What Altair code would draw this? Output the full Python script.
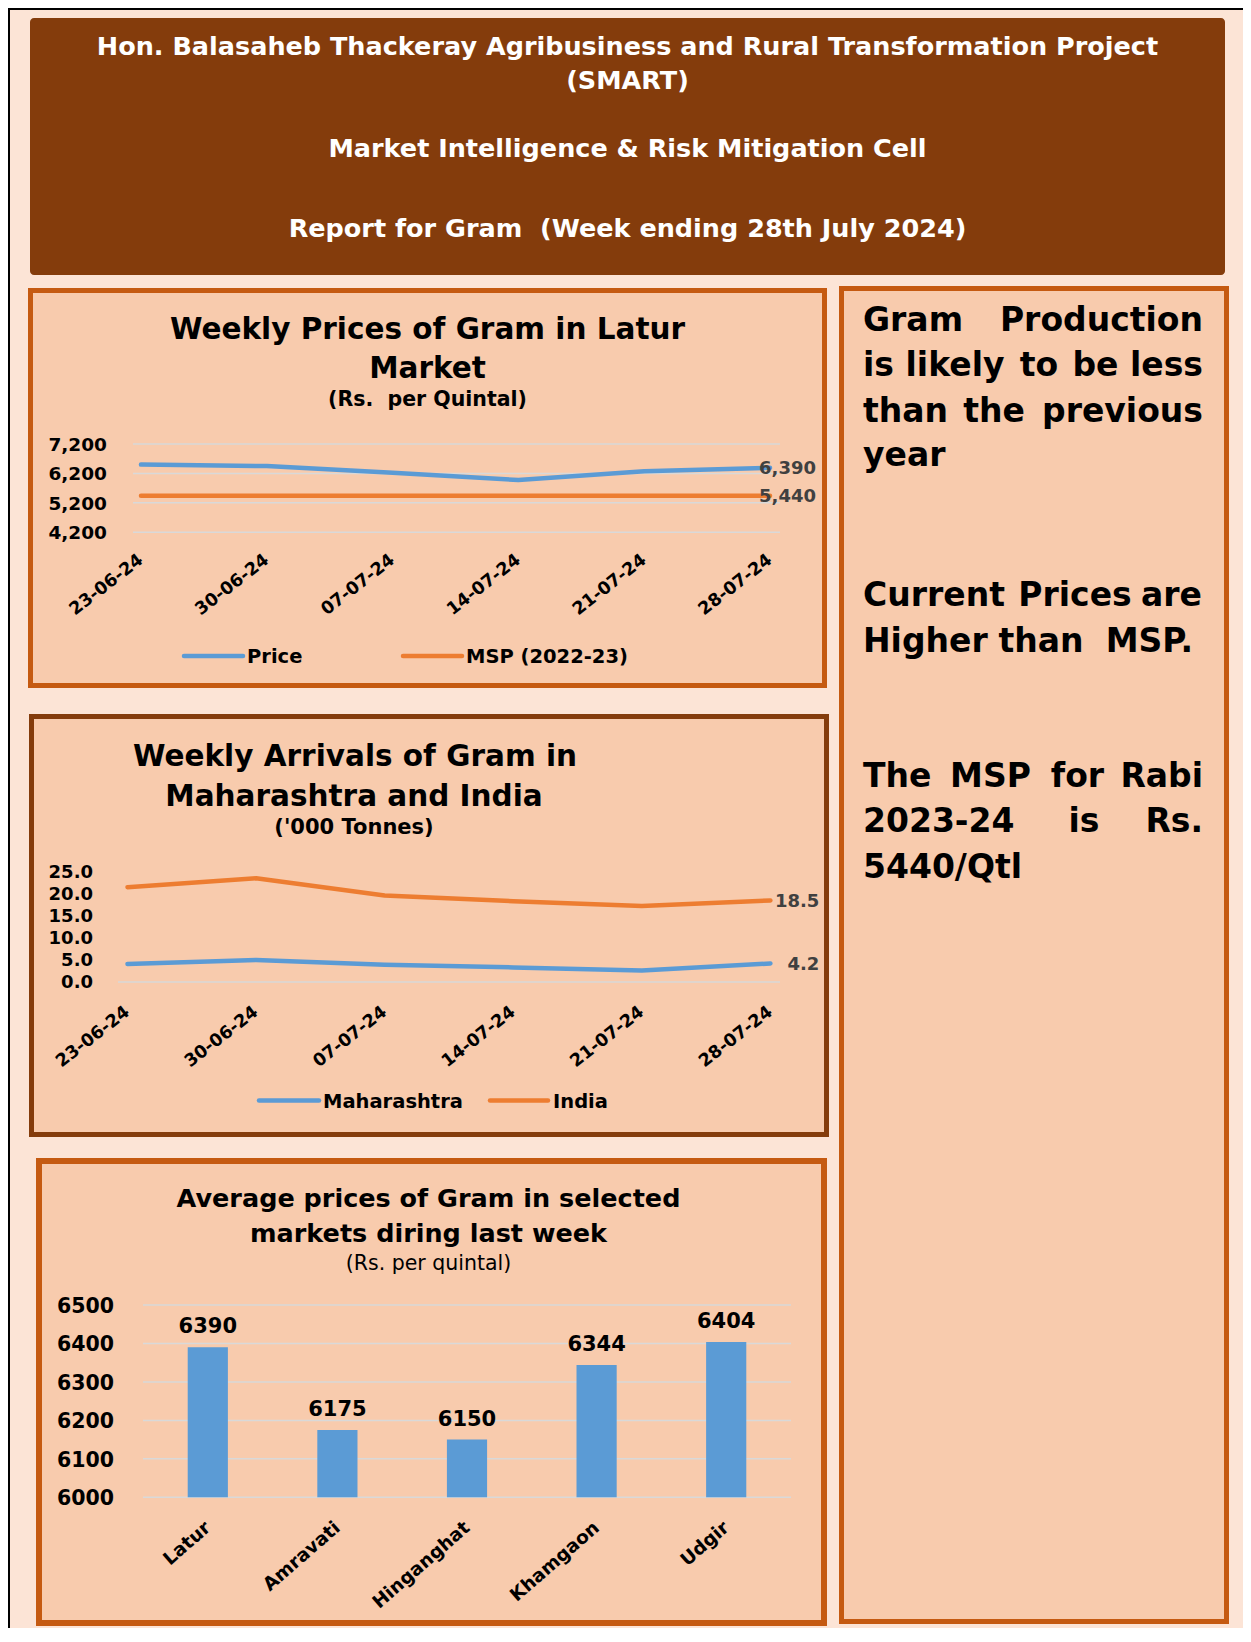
import altair as alt
import pandas as pd

# ---------------- data ----------------
weeks = ["23-06-24", "30-06-24", "07-07-24", "14-07-24", "21-07-24", "28-07-24"]
price = [6500, 6450, 6225, 5975, 6275, 6390]
msp = [5440, 5440, 5440, 5440, 5440, 5440]
price_ticks = [4200, 5200, 6200, 7200]

maharashtra = [4.1, 5.0, 3.9, 3.3, 2.6, 4.2]
india = [21.5, 23.5, 19.6, 18.3, 17.2, 18.5]
arrival_ticks = [0, 5, 10, 15, 20, 25]

markets = ["Latur", "Amravati", "Hinganghat", "Khamgaon", "Udgir"]
market_prices = [6390, 6175, 6150, 6344, 6404]
market_ticks = [6000, 6100, 6200, 6300, 6400, 6500]

# ---------------- style ----------------
F = "DejaVu Sans"
BG = "#FCE4D6"
PANEL = "#F8CBAD"
ORANGE_DARK = "#C55A11"
BROWN = "#843C0C"
BLUE = "#5B9BD5"
ORANGE = "#ED7D31"
GRID = "#D9D9D9"
OX, OY = 8, 8
W, H = 1235, 1620
NB = "\u00a0"
XANG = 322
XANG3 = 319


def px(v):
    return v - OX


def py(v):
    return v - OY


one = pd.DataFrame({"k": [0]})


def txt(s, x, y, size, color="#000000", weight="bold", align="center", baseline="alphabetic"):
    return alt.Chart(one).mark_text(
        text=s, font=F, fontSize=size, fontWeight=weight, color=color,
        align=align, baseline=baseline
    ).encode(x=alt.value(px(x)), y=alt.value(py(y)))


def box(x1, y1, x2, y2, fill, stroke=None, sw=0, radius=0):
    kw = dict(fill=fill, cornerRadius=radius)
    if stroke is not None:
        kw.update(stroke=stroke, strokeWidth=sw)
    else:
        kw.update(strokeWidth=0)
    return alt.Chart(one).mark_rect(**kw).encode(
        x=alt.value(px(x1)), x2=alt.value(px(x2)),
        y=alt.value(py(y1)), y2=alt.value(py(y2)))


def legend_item(x1, x2, y, color, label, tx):
    r = alt.Chart(one).mark_rule(color=color, strokeWidth=4.5, strokeCap="round").encode(
        x=alt.value(px(x1)), x2=alt.value(px(x2)), y=alt.value(py(y)))
    t = txt(label, tx, y + 1, 19.5, align="left", baseline="middle")
    return [r, t]


layers = []

# thin black frame on top / left
layers.append(alt.Chart(one).mark_rule(color="#000000", strokeWidth=2).encode(
    x=alt.value(0), x2=alt.value(W), y=alt.value(1)))
layers.append(alt.Chart(one).mark_rule(color="#000000", strokeWidth=2).encode(
    x=alt.value(1), y=alt.value(0), y2=alt.value(H)))

# ---------------- header ----------------
layers.append(box(30, 18, 1225, 275, BROWN, radius=4))
hx = 627.5
HS = 25.5
layers.append(txt("Hon. Balasaheb Thackeray Agribusiness and Rural Transformation Project", hx, 55, HS, color="#FFFFFF"))
layers.append(txt("(SMART)", hx, 89, HS, color="#FFFFFF"))
layers.append(txt("Market Intelligence & Risk Mitigation Cell", hx, 157, HS, color="#FFFFFF"))
layers.append(txt("Report for Gram " + NB + "(Week ending 28th July 2024)", hx, 237, HS, color="#FFFFFF"))

# ---------------- panel boxes ----------------
layers.append(box(30.5, 290.5, 824.5, 685.5, PANEL, ORANGE_DARK, 5))
layers.append(box(31.5, 716.5, 826.5, 1134.5, PANEL, BROWN, 5))
layers.append(box(39, 1161, 824, 1623, PANEL, ORANGE_DARK, 6))
layers.append(box(841.5, 288.5, 1226.5, 1621.5, PANEL, ORANGE_DARK, 5))

# ---------------- chart 1 : weekly prices ----------------
s1x = alt.Scale(type="point", domain=weeks, range=[px(141), px(770)], padding=0)
s1y = alt.Scale(domain=[4200, 7200], range=[py(532.3), py(444)], nice=False, zero=False)
d1 = pd.DataFrame({
    "week": weeks * 2,
    "idx": list(range(6)) * 2,
    "series": ["Price"] * 6 + ["MSP (2022-23)"] * 6,
    "value": price + msp,
})
t1 = pd.DataFrame({"tick": price_ticks})
w1 = pd.DataFrame({"week": weeks})

c1 = alt.layer(
    alt.Chart(t1).mark_rule(color=GRID, strokeWidth=1.5).encode(
        y=alt.Y("tick:Q", scale=s1y, axis=None), x=alt.value(px(133)), x2=alt.value(px(780))),
    alt.Chart(t1).mark_text(font=F, fontSize=18.5, fontWeight="bold", align="right",
                            baseline="middle", dy=1, color="#000000").encode(
        y=alt.Y("tick:Q", scale=s1y, axis=None), x=alt.value(px(107)),
        text=alt.Text("tick:Q", format=",")),
    alt.Chart(d1).mark_line(strokeWidth=4.5, strokeCap="round", strokeJoin="round").encode(
        x=alt.X("week:N", scale=s1x, axis=None),
        y=alt.Y("value:Q", scale=s1y, axis=None),
        color=alt.Color("series:N", scale=alt.Scale(domain=["Price", "MSP (2022-23)"], range=[BLUE, ORANGE]), legend=None),
        order=alt.Order("idx:Q")),
    alt.Chart(d1).transform_filter(alt.datum.week == weeks[-1]).mark_text(
        font=F, fontSize=18, fontWeight="bold", color="#404040", align="right",
        baseline="middle", dx=46, dy=1).encode(
        x=alt.X("week:N", scale=s1x, axis=None),
        y=alt.Y("value:Q", scale=s1y, axis=None),
        text=alt.Text("value:Q", format=",")),
    alt.Chart(w1).mark_text(font=F, fontSize=17.5, fontWeight="bold", angle=XANG,
                            align="right", baseline="middle", color="#000000").encode(
        x=alt.X("week:N", scale=s1x, axis=None), y=alt.value(py(558)), text="week:N"),
)
layers.append(c1)
layers.append(txt("Weekly Prices of Gram in Latur", 427.5, 339, 29.5))
layers.append(txt("Market", 427.5, 378, 29.5))
layers.append(txt("(Rs. " + NB + "per Quintal)", 427.5, 406, 20.5))
layers += legend_item(184, 243, 656, BLUE, "Price", 247)
layers += legend_item(403, 462, 656, ORANGE, "MSP (2022-23)", 466)

# ---------------- chart 2 : arrivals ----------------
s2x = alt.Scale(type="point", domain=weeks, range=[px(127.5), px(770.4)], padding=0)
s2y = alt.Scale(domain=[0, 25], range=[py(982), py(871.7)], nice=False, zero=False)
d2 = pd.DataFrame({
    "week": weeks * 2,
    "idx": list(range(6)) * 2,
    "series": ["Maharashtra"] * 6 + ["India"] * 6,
    "value": maharashtra + india,
})
t2 = pd.DataFrame({"tick": arrival_ticks})

c2 = alt.layer(
    alt.Chart(pd.DataFrame({"tick": [0]})).mark_rule(color=GRID, strokeWidth=1.5).encode(
        y=alt.Y("tick:Q", scale=s2y, axis=None), x=alt.value(px(118)), x2=alt.value(px(780))),
    alt.Chart(t2).mark_text(font=F, fontSize=18, fontWeight="bold", align="right",
                            baseline="middle", dy=1, color="#000000").encode(
        y=alt.Y("tick:Q", scale=s2y, axis=None), x=alt.value(px(93)),
        text=alt.Text("tick:Q", format=".1f")),
    alt.Chart(d2).mark_line(strokeWidth=4.5, strokeCap="round", strokeJoin="round").encode(
        x=alt.X("week:N", scale=s2x, axis=None),
        y=alt.Y("value:Q", scale=s2y, axis=None),
        color=alt.Color("series:N", scale=alt.Scale(domain=["Maharashtra", "India"], range=[BLUE, ORANGE]), legend=None),
        order=alt.Order("idx:Q")),
    alt.Chart(d2).transform_filter(alt.datum.week == weeks[-1]).mark_text(
        font=F, fontSize=18, fontWeight="bold", color="#404040", align="right",
        baseline="middle", dx=49, dy=1.5).encode(
        x=alt.X("week:N", scale=s2x, axis=None),
        y=alt.Y("value:Q", scale=s2y, axis=None),
        text=alt.Text("value:Q", format=".1f")),
    alt.Chart(w1).mark_text(font=F, fontSize=17.5, fontWeight="bold", angle=XANG,
                            align="right", baseline="middle", color="#000000").encode(
        x=alt.X("week:N", scale=s2x, axis=None), y=alt.value(py(1010)), text="week:N"),
)
layers.append(c2)
layers.append(txt("Weekly Arrivals of Gram in", 355, 766, 29.5))
layers.append(txt("Maharashtra and India", 354, 806, 29.5))
layers.append(txt("('000 Tonnes)", 354, 834, 21))
layers += legend_item(259, 319, 1100.5, BLUE, "Maharashtra", 323)
layers += legend_item(490, 548, 1100.5, ORANGE, "India", 553)

# ---------------- chart 3 : market prices ----------------
s3x = alt.Scale(type="band", domain=markets, range=[px(143), px(791)], paddingInner=0.69, paddingOuter=0.345)
s3y = alt.Scale(domain=[6000, 6500], range=[py(1497.3), py(1305)], nice=False, zero=False)
d3 = pd.DataFrame({"market": markets, "price": market_prices})
t3 = pd.DataFrame({"tick": market_ticks})

c3 = alt.layer(
    alt.Chart(t3).mark_rule(color=GRID, strokeWidth=1.5).encode(
        y=alt.Y("tick:Q", scale=s3y, axis=None), x=alt.value(px(143)), x2=alt.value(px(791))),
    alt.Chart(t3).mark_text(font=F, fontSize=20.5, fontWeight="bold", align="right",
                            baseline="middle", dy=2, color="#000000").encode(
        y=alt.Y("tick:Q", scale=s3y, axis=None), x=alt.value(px(114)),
        text=alt.Text("tick:Q", format="d")),
    alt.Chart(d3).mark_bar(color=BLUE).encode(
        x=alt.X("market:N", scale=s3x, axis=None),
        y=alt.Y("price:Q", scale=s3y, axis=None),
        y2=alt.datum(6000)),
    alt.Chart(d3).mark_text(font=F, fontSize=21, fontWeight="bold", color="#000000",
                            align="center", baseline="alphabetic", dy=-14).encode(
        x=alt.X("market:N", scale=s3x, axis=None),
        y=alt.Y("price:Q", scale=s3y, axis=None),
        text=alt.Text("price:Q", format="d")),
    alt.Chart(d3).mark_text(font=F, fontSize=18.5, fontWeight="bold", angle=XANG3,
                            align="right", baseline="middle", color="#000000").encode(
        x=alt.X("market:N", scale=s3x, axis=None), y=alt.value(py(1525)), text="market:N"),
)
layers.append(c3)
layers.append(txt("Average prices of Gram in selected", 428.5, 1207, 25.5))
layers.append(txt("markets diring last week", 428.5, 1241.5, 25.5))
layers.append(txt("(Rs. per quintal)", 428.5, 1270, 20.5, weight="normal"))

# ---------------- right text panel ----------------
# each word: (text, anchor x, alignment) -> justified look of the reference
SZ = 33
panel_lines = [
    (331, [("Gram", 863, "left"), ("Production", 1203, "right")]),
    (376, [("is", 863, "left"), ("likely", 955, "center"), ("to", 1039, "center"),
           ("be", 1095.5, "center"), ("less", 1203, "right")]),
    (422, [("than", 863, "left"), ("the", 994, "center"), ("previous", 1203, "right")]),
    (466, [("year", 863, "left")]),
    (606, [("Current", 863, "left"), ("Prices", 1075, "center"), ("are", 1202, "right")]),
    (652, [("Higher", 863, "left"), ("than", 1041, "center"), ("MSP.", 1193, "right")]),
    (787, [("The", 863, "left"), ("MSP", 990.5, "center"), ("for", 1077.5, "center"),
           ("Rabi", 1203, "right")]),
    (832, [("2023-24", 863, "left"), ("is", 1084, "center"), ("Rs.", 1203, "right")]),
    (878, [("5440/Qtl", 863, "left")]),
]
for yb, words in panel_lines:
    for w_, xa, al in words:
        layers.append(txt(w_, xa, yb, SZ, align=al))

chart = alt.layer(*layers).resolve_scale(
    x="independent", y="independent", color="independent"
).properties(
    width=W, height=H, background=BG, padding=0,
    autosize=alt.AutoSizeParams(type="none"),
).configure_view(strokeWidth=0)

chart.save("out.html", embed_options={"renderer": "svg", "actions": False})
